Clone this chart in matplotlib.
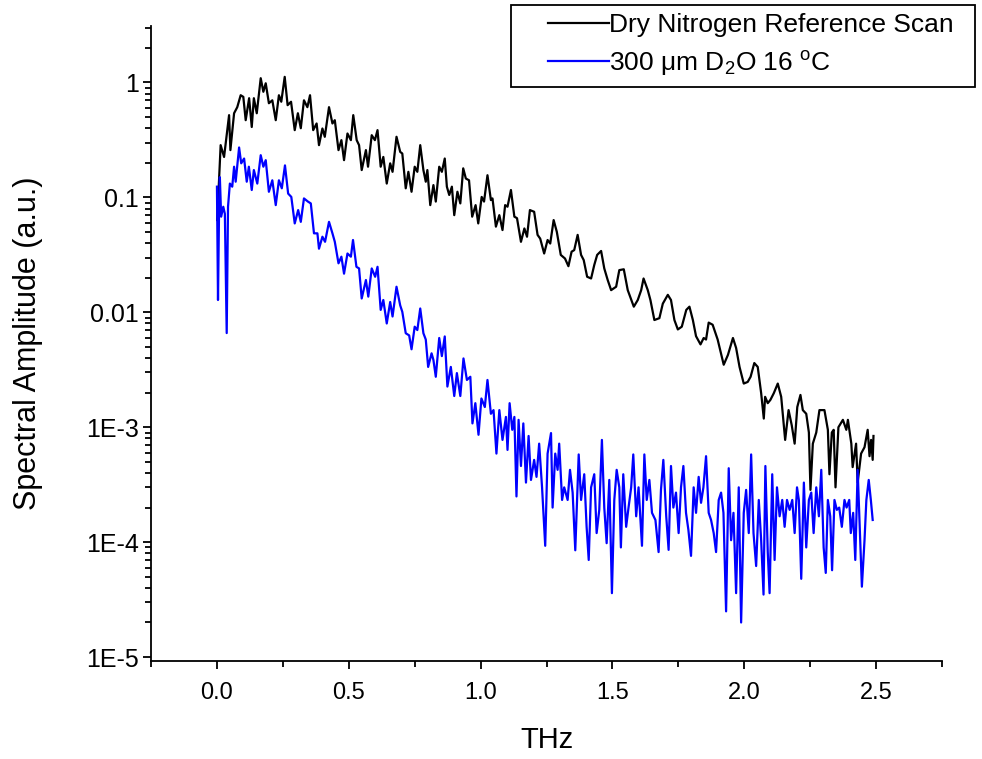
import matplotlib
matplotlib.use("Agg")
import matplotlib.pyplot as plt
from matplotlib.ticker import FixedLocator, FixedFormatter, LogLocator, MultipleLocator, NullFormatter
from matplotlib.patches import Rectangle

# Spectre de référence (azote sec)
nitrogen_thz = [0.001, 0.014, 0.027, 0.046, 0.051, 0.065, 0.077, 0.090, 0.100, 0.109,
                0.122, 0.132, 0.140, 0.151, 0.166, 0.176, 0.185, 0.197, 0.210, 0.223,
                0.235, 0.244, 0.257, 0.268, 0.281, 0.295, 0.307, 0.318, 0.330, 0.343,
                0.353, 0.365, 0.378, 0.387, 0.400, 0.409, 0.425, 0.438, 0.447, 0.461,
                0.472, 0.482, 0.495, 0.508, 0.517, 0.530, 0.539, 0.549, 0.565, 0.573,
                0.587, 0.599, 0.609, 0.621, 0.631, 0.644, 0.657, 0.666, 0.681, 0.695,
                0.703, 0.716, 0.726, 0.738, 0.750, 0.760, 0.771, 0.783, 0.792, 0.798,
                0.809, 0.821, 0.830, 0.843, 0.853, 0.864, 0.872, 0.881, 0.891, 0.900,
                0.912, 0.923, 0.934, 0.944, 0.956, 0.968, 0.981, 0.991, 1.004, 1.013,
                1.026, 1.039, 1.045, 1.058, 1.071, 1.083, 1.093, 1.102, 1.115, 1.128,
                1.138, 1.153, 1.166, 1.176, 1.187, 1.203, 1.216, 1.226, 1.241, 1.254,
                1.264, 1.277, 1.289, 1.304, 1.320, 1.333, 1.345, 1.355, 1.368, 1.381,
                1.391, 1.404, 1.419, 1.431, 1.442, 1.457, 1.469, 1.482, 1.495, 1.514,
                1.526, 1.543, 1.558, 1.581, 1.596, 1.609, 1.618, 1.634, 1.644, 1.659,
                1.678, 1.691, 1.710, 1.722, 1.735, 1.748, 1.763, 1.780, 1.792, 1.805,
                1.817, 1.834, 1.846, 1.855, 1.865, 1.880, 1.899, 1.922, 1.938, 1.957,
                1.969, 1.982, 1.998, 2.013, 2.024, 2.038, 2.051, 2.064, 2.074, 2.079,
                2.089, 2.099, 2.112, 2.127, 2.140, 2.155, 2.168, 2.180, 2.191, 2.201,
                2.213, 2.222, 2.235, 2.245, 2.251, 2.260, 2.273, 2.285, 2.304, 2.317,
                2.323, 2.332, 2.339, 2.346, 2.357, 2.374, 2.387, 2.393, 2.406, 2.411,
                2.424, 2.430, 2.443, 2.456, 2.468, 2.475, 2.481, 2.487, 2.490]
nitrogen_amp = [0.0635, 0.285, 0.225, 0.52, 0.258, 0.54, 0.61, 0.775, 0.75, 0.47,
                0.73, 0.41, 0.73, 0.54, 1.09, 0.83, 0.985, 0.66, 0.70, 0.47,
                0.775, 0.68, 1.12, 0.635, 0.68, 0.385, 0.54, 0.40, 0.70, 0.61,
                0.775, 0.385, 0.44, 0.285, 0.398, 0.337, 0.61, 0.44, 0.47, 0.258,
                0.315, 0.211, 0.36, 0.315, 0.52, 0.315, 0.285, 0.173, 0.258, 0.185,
                0.348, 0.315, 0.385, 0.185, 0.225, 0.132, 0.198, 0.167, 0.337, 0.249,
                0.241, 0.12, 0.167, 0.112, 0.185, 0.167, 0.285, 0.173, 0.137, 0.173,
                0.0857, 0.128, 0.092, 0.185, 0.167, 0.218, 0.124, 0.105, 0.124, 0.0701,
                0.112, 0.0887, 0.179, 0.146, 0.141, 0.068, 0.0857, 0.0594, 0.101, 0.092,
                0.156, 0.0948, 0.098, 0.0557, 0.0701, 0.052, 0.0857, 0.083, 0.116, 0.068,
                0.066, 0.0411, 0.0537, 0.0455, 0.0776, 0.075, 0.0472, 0.0438, 0.0325, 0.0426,
                0.0397, 0.0635, 0.0502, 0.0316, 0.0294, 0.0252, 0.0337, 0.0348, 0.0472, 0.0316,
                0.0285, 0.0204, 0.0197, 0.0258, 0.0316, 0.0342, 0.0241, 0.0191, 0.0156, 0.0167,
                0.0233, 0.0237, 0.0156, 0.0112, 0.0128, 0.0156, 0.0197, 0.0156, 0.0128, 0.00857,
                0.0089, 0.0119, 0.0142, 0.0128, 0.00857, 0.0071, 0.0075, 0.0105, 0.0112, 0.00857,
                0.0062, 0.00526, 0.00598, 0.0058, 0.00814, 0.0078, 0.0058, 0.0035, 0.00426, 0.00598,
                0.0049, 0.00335, 0.0024, 0.00248, 0.00275, 0.00362, 0.00335, 0.00198, 0.00119, 0.00184,
                0.00162, 0.00173, 0.00198, 0.0024, 0.00184, 7.76e-4, 0.00141, 0.00104, 7.2e-4, 0.0015,
                0.00191, 0.00141, 0.00131, 9e-4, 2.85e-4, 7.2e-4, 9e-4, 0.00141, 0.00141, 9.5e-4,
                3.9e-4, 9e-4, 9.5e-4, 3.0e-4, 1.0e-3, 0.00116, 9.5e-4, 0.00116, 7.2e-4, 4.5e-4,
                7.2e-4, 3.3e-4, 5.9e-4, 6.7e-4, 9.5e-4, 5.6e-4, 7.76e-4, 5.2e-4, 8.4e-4]

# Echantillon : 300 um de D2O à 16 °C
d2o_thz = [0.000, 0.004, 0.008, 0.011, 0.016, 0.024, 0.030, 0.037, 0.042, 0.049,
           0.058, 0.065, 0.071, 0.084, 0.092, 0.103, 0.113, 0.121, 0.132, 0.140,
           0.153, 0.166, 0.176, 0.185, 0.197, 0.210, 0.223, 0.235, 0.246, 0.258,
           0.270, 0.282, 0.295, 0.308, 0.318, 0.330, 0.345, 0.356, 0.368, 0.381,
           0.387, 0.400, 0.410, 0.425, 0.438, 0.447, 0.461, 0.472, 0.482, 0.495,
           0.508, 0.516, 0.529, 0.539, 0.549, 0.565, 0.574, 0.587, 0.600, 0.609,
           0.621, 0.631, 0.644, 0.657, 0.666, 0.681, 0.695, 0.703, 0.716, 0.729,
           0.738, 0.750, 0.760, 0.771, 0.783, 0.792, 0.801, 0.814, 0.821, 0.830,
           0.843, 0.853, 0.864, 0.874, 0.887, 0.900, 0.910, 0.923, 0.935, 0.948,
           0.961, 0.969, 0.980, 0.992, 1.003, 1.016, 1.026, 1.039, 1.049, 1.060,
           1.071, 1.083, 1.096, 1.102, 1.110, 1.120, 1.128, 1.136, 1.144, 1.153,
           1.162, 1.172, 1.182, 1.191, 1.203, 1.212, 1.222, 1.233, 1.245, 1.254,
           1.267, 1.273, 1.283, 1.292, 1.298, 1.309, 1.317, 1.330, 1.339, 1.349,
           1.359, 1.372, 1.381, 1.393, 1.402, 1.410, 1.419, 1.431, 1.440, 1.450,
           1.460, 1.469, 1.478, 1.488, 1.498, 1.507, 1.516, 1.526, 1.532, 1.541,
           1.552, 1.561, 1.571, 1.579, 1.590, 1.599, 1.612, 1.621, 1.630, 1.640,
           1.650, 1.663, 1.675, 1.684, 1.693, 1.704, 1.713, 1.722, 1.731, 1.741,
           1.751, 1.760, 1.769, 1.779, 1.788, 1.798, 1.808, 1.817, 1.827, 1.836,
           1.845, 1.855, 1.865, 1.874, 1.884, 1.893, 1.903, 1.912, 1.921, 1.931,
           1.941, 1.950, 1.959, 1.969, 1.979, 1.988, 1.998, 2.007, 2.017, 2.026,
           2.035, 2.045, 2.055, 2.064, 2.073, 2.080, 2.089, 2.096, 2.106, 2.115,
           2.124, 2.134, 2.144, 2.153, 2.162, 2.172, 2.182, 2.191, 2.200, 2.207,
           2.216, 2.226, 2.235, 2.245, 2.254, 2.263, 2.273, 2.283, 2.292, 2.301,
           2.309, 2.317, 2.326, 2.333, 2.342, 2.351, 2.360, 2.370, 2.380, 2.388,
           2.398, 2.404, 2.413, 2.421, 2.430, 2.436, 2.446, 2.456, 2.463, 2.472,
           2.480, 2.487]
d2o_amp = [0.124, 0.0128, 0.0776, 0.150, 0.068, 0.083, 0.072, 0.0066, 0.083, 0.132,
           0.124, 0.185, 0.137, 0.272, 0.198, 0.218, 0.137, 0.185, 0.116, 0.173,
           0.132, 0.233, 0.185, 0.211, 0.112, 0.141, 0.0857, 0.141, 0.12, 0.19,
           0.108, 0.101, 0.0594, 0.0776, 0.0613, 0.098, 0.092, 0.0887, 0.0487, 0.0487,
           0.0358, 0.0455, 0.0411, 0.0613, 0.0487, 0.0411, 0.0267, 0.0305, 0.0217, 0.0325,
           0.0305, 0.0426, 0.0249, 0.0241, 0.0132, 0.0191, 0.0137, 0.0241, 0.0204, 0.0249,
           0.0105, 0.0128, 0.0080, 0.0123, 0.0092, 0.0167, 0.0115, 0.0101, 0.00658, 0.0063,
           0.00477, 0.0075, 0.00701, 0.0108, 0.00658, 0.0058, 0.00335, 0.0044, 0.00385, 0.00275,
           0.00598, 0.00416, 0.00617, 0.00226, 0.00335, 0.00187, 0.00296, 0.00187, 0.00397, 0.00258,
           0.00275, 0.00108, 0.00162, 8.6e-4, 0.00178, 0.00150, 0.00258, 0.00131, 0.00141, 5.9e-4,
           0.00141, 7.76e-4, 0.00123, 6.35e-4, 0.00162, 9.5e-4, 0.00123, 2.5e-4, 0.00116, 4.6e-4,
           0.00108, 3.3e-4, 8.4e-4, 3.48e-4, 5.2e-4, 3.7e-4, 7.2e-4, 3.0e-4, 9.3e-5, 5.9e-4,
           8.9e-4, 2.0e-4, 5.9e-4, 4.26e-4, 7.2e-4, 2.33e-4, 3.0e-4, 2.33e-4, 4.26e-4, 2.7e-4,
           8.5e-5, 5.8e-4, 2.33e-4, 3.9e-4, 1.36e-4, 7.0e-5, 3.0e-4, 3.9e-4, 1.2e-4, 1.91e-4,
           7.76e-4, 2.0e-4, 9.8e-5, 3.48e-4, 3.6e-5, 2.33e-4, 4.26e-4, 3.0e-4, 9.0e-5, 3.9e-4,
           1.36e-4, 2.0e-4, 3.0e-4, 5.8e-4, 1.68e-4, 3.0e-4, 9.3e-5, 5.8e-4, 2.33e-4, 3.48e-4,
           1.8e-4, 1.56e-4, 8.2e-5, 2.85e-4, 5.2e-4, 1.68e-4, 8.57e-5, 4.6e-4, 2.0e-4, 2.7e-4,
           1.2e-4, 3.0e-4, 4.6e-4, 1.8e-4, 1.28e-4, 7.6e-5, 3.0e-4, 1.8e-4, 3.7e-4, 2.2e-4,
           3.0e-4, 5.6e-4, 1.8e-4, 1.56e-4, 1.2e-4, 8.2e-5, 2.33e-4, 2.7e-4, 1.8e-4, 2.5e-5,
           4.4e-4, 1.04e-4, 1.8e-4, 3.6e-5, 3.0e-4, 2.0e-5, 1.8e-4, 2.85e-4, 1.2e-4, 5.8e-4,
           1.2e-4, 6.2e-5, 2.33e-4, 1.04e-4, 3.5e-5, 4.6e-4, 8.2e-5, 3.6e-5, 3.9e-4, 7.0e-5,
           3.0e-4, 1.68e-4, 2.33e-4, 1.36e-4, 2.33e-4, 1.91e-4, 2.33e-4, 1.2e-4, 3.0e-4, 2.33e-4,
           4.8e-5, 3.3e-4, 9.0e-5, 2.33e-4, 2.7e-4, 1.2e-4, 3.0e-4, 1.68e-4, 4.26e-4, 9.0e-5,
           5.4e-5, 2.33e-4, 1.68e-4, 5.7e-5, 2.33e-4, 1.91e-4, 2.0e-4, 1.36e-4, 2.33e-4, 2.0e-4,
           2.33e-4, 1.2e-4, 1.8e-4, 7.0e-5, 4.26e-4, 1.8e-4, 4.1e-5, 1.04e-4, 2.33e-4, 3.48e-4,
           2.33e-4, 1.56e-4]

x_ticks = [0.0, 0.5, 1.0, 1.5, 2.0, 2.5]
x_tick_labels = ["0.0", "0.5", "1.0", "1.5", "2.0", "2.5"]
y_ticks = [1e-5, 1e-4, 1e-3, 1e-2, 1e-1, 1.0]
y_tick_labels = ["1E-5", "1E-4", "1E-3", "0.01", "0.1", "1"]

plt.rcParams["font.family"] = ["Liberation Sans", "DejaVu Sans"]
plt.rcParams["mathtext.fontset"] = "custom"
plt.rcParams["mathtext.rm"] = "Liberation Sans"
plt.rcParams["mathtext.it"] = "Liberation Sans:italic"

fig = plt.figure(figsize=(9.82, 7.59), dpi=100)
ax = fig.add_axes([0.1538, 0.1295, 0.8055, 0.8362])

ln1, = ax.plot(nitrogen_thz, nitrogen_amp, color="black", lw=1.6,
               label="Dry Nitrogen Reference Scan")
ln2, = ax.plot(d2o_thz, d2o_amp, color="#0000ff", lw=1.6,
               label="300 \u03bcm D$_2$O 16 $^{\\mathrm{o}}$C")

ax.set_yscale("log")
ax.set_xlim(-0.25, 2.75)
ax.set_ylim(9.3e-6, 3.1)

ax.xaxis.set_major_locator(FixedLocator(x_ticks))
ax.xaxis.set_major_formatter(FixedFormatter(x_tick_labels))
ax.xaxis.set_minor_locator(MultipleLocator(0.25))
ax.yaxis.set_major_locator(FixedLocator(y_ticks))
ax.yaxis.set_major_formatter(FixedFormatter(y_tick_labels))
ax.yaxis.set_minor_locator(LogLocator(base=10, subs=range(2, 10), numticks=20))
ax.yaxis.set_minor_formatter(NullFormatter())

for side in ["top", "right"]:
    ax.spines[side].set_visible(False)
for side in ["left", "bottom"]:
    ax.spines[side].set_linewidth(1.3)

ax.tick_params(axis="both", which="major", direction="out", length=6, width=1.3)
ax.tick_params(axis="both", which="minor", direction="out", length=4, width=1.3)
ax.tick_params(axis="y", which="major", labelsize=18, pad=3)
ax.tick_params(axis="x", which="major", labelsize=17, pad=9)

ax.set_xlabel("THz", fontsize=21, labelpad=16)
ax.set_ylabel("Spectral Amplitude (a.u.)", fontsize=22, labelpad=31)

# Cadre de la légende, qui déborde à droite du graphe
fig.add_artist(Rectangle((511 / 982, 1 - 87 / 759), 464 / 982, 82 / 759,
                         transform=fig.transFigure, fill=False, lw=1.3, color="black"))
fig.legend(handles=[ln1, ln2], loc="upper left", bbox_to_anchor=(548 / 982, 1 - 13 / 759),
           frameon=False, fontsize=19, borderpad=0, borderaxespad=0,
           handlelength=2.3, handletextpad=0.0, labelspacing=0.45)

fig.savefig("out.png", dpi=100)
